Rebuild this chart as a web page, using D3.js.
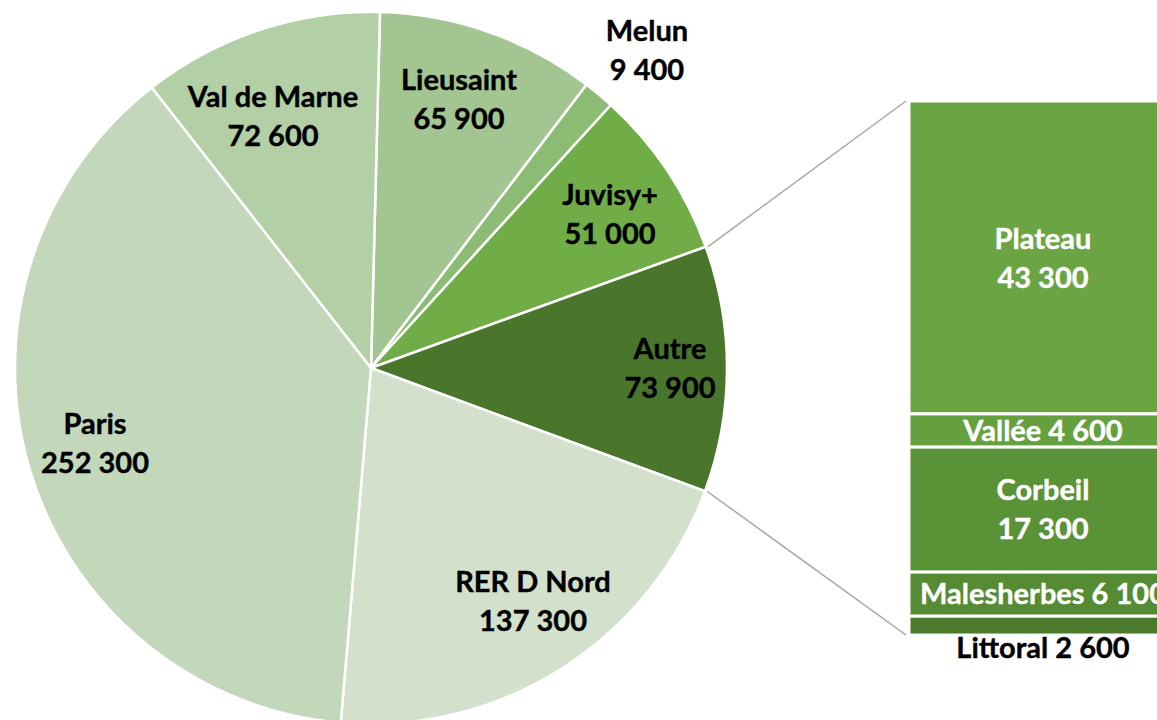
<!DOCTYPE html>
<html><head><meta charset="utf-8">
<script src="https://cdn.jsdelivr.net/npm/d3@7"></script>
<style>html,body{margin:0;padding:0;background:#fff;overflow:hidden}svg{display:block}</style>
</head><body>
<svg id="c" width="1157" height="720"></svg>
<script>
const pieNames = ["Lieusaint","Melun","Juvisy+","Autre","RER D Nord","Paris","Val de Marne"];
const pieValues = [65900, 9400, 51000, 73900, 137300, 252300, 72600];
const pieLabels = ["65 900","9 400","51 000","73 900","137 300","252 300","72 600"];
const pieColors = ["#a2c591","#8cbb74","#70ad47","#4a762c","#d3e1cc","#c3d7ba","#b3cfa5"];
const barNames = ["Plateau","Vallée","Corbeil","Malesherbes","Littoral"];
const barValues = [43300, 4600, 17300, 6100, 2600];
const barLabels = ["43 300","4 600","17 300","6 100","2 600"];
const barColors = ["#6aa443","#65a03f","#5a9237","#558b33","#4b792d"];

const svg = d3.select("#c");
const cx = 371, cy = 368, R = 356;
const start = 1.45 * Math.PI / 180;
const pie = d3.pie().sort(null).value(d => d.v).startAngle(start).endAngle(start + 2*Math.PI);
const data = pieNames.map((n,i)=>({n, v:pieValues[i], l:pieLabels[i], c:pieColors[i]}));
const arcs = pie(data);
const arc = d3.arc().innerRadius(0).outerRadius(R);
const g = svg.append("g").attr("transform", `translate(${cx},${cy})`);
g.selectAll("path").data(arcs).join("path")
  .attr("d", arc).attr("fill", d => d.data.c)
  .attr("stroke", "#fff").attr("stroke-width", 2.5).attr("stroke-linejoin","round");

// connector lines from Autre slice edges to bar
const autre = arcs[3];
const bx0 = 909, bx1 = 1175;
const y = d3.scaleLinear().domain([0, d3.sum(barValues)]).range([101, 635]);
const p1 = [cx + R*Math.sin(autre.startAngle), cy - R*Math.cos(autre.startAngle)];
const p2 = [cx + R*Math.sin(autre.endAngle), cy - R*Math.cos(autre.endAngle)];
svg.append("line").attr("x1", p1[0]+2).attr("y1", p1[1]).attr("x2", bx0-3).attr("y2", y(0))
  .attr("stroke","#a6a6a6").attr("stroke-width",1.5);
svg.append("line").attr("x1", p2[0]+2).attr("y1", p2[1]).attr("x2", bx0-3).attr("y2", y(d3.sum(barValues)))
  .attr("stroke","#a6a6a6").attr("stroke-width",1.5);

// bar
let cum = 0;
const segs = barValues.map((v,i)=>{const s={n:barNames[i],v,l:barLabels[i],c:barColors[i],y0:cum,y1:cum+v}; cum+=v; return s;});
svg.selectAll("rect.seg").data(segs).join("rect").attr("class","seg")
  .attr("x", bx0).attr("width", bx1-bx0)
  .attr("y", d => y(d.y0)).attr("height", d => y(d.y1)-y(d.y0))
  .attr("fill", d => d.c).attr("stroke","#fff").attr("stroke-width",3);

const font = "Lato, 'Open Sans', sans-serif";
function label(x, yc, lines, color){
  const t = svg.append("text").attr("x", x).attr("text-anchor","middle")
    .attr("font-family", font).attr("font-weight", 700).attr("font-size", 29).attr("fill", color)
    .attr("stroke", color).attr("stroke-width", 0.4);
  lines.forEach((ln,i)=>{
    t.append("tspan").attr("x", x).attr("y", yc + i*39).attr("dy","0.35em").text(ln);
  });
}
// pie labels (positions estimated from reference)
const pieLabelPos = {"Lieusaint":[459,80],"Melun":[647,31],"Juvisy+":[610,195],"Autre":[670,349],
  "RER D Nord":[533,582],"Paris":[95,424],"Val de Marne":[273,97]};
data.forEach(d=>{const p=pieLabelPos[d.n]; label(p[0], p[1], [d.n, d.l], "#000");});

const bxc = (bx0+bx1)/2 + 1;
label(bxc, y(segs[0].y0)+138, [segs[0].n, segs[0].l], "#fff");
label(bxc, (y(segs[1].y0)+y(segs[1].y1))/2, [segs[1].n+" "+segs[1].l], "#fff");
label(bxc, (y(segs[2].y0)+y(segs[2].y1))/2 - 19.5, [segs[2].n, segs[2].l], "#fff");
label(bxc, (y(segs[3].y0)+y(segs[3].y1))/2, [segs[3].n+" "+segs[3].l], "#fff");
label(bxc, y(segs[4].y1)+13, [segs[4].n+" "+segs[4].l], "#000");
</script>
</body></html>
